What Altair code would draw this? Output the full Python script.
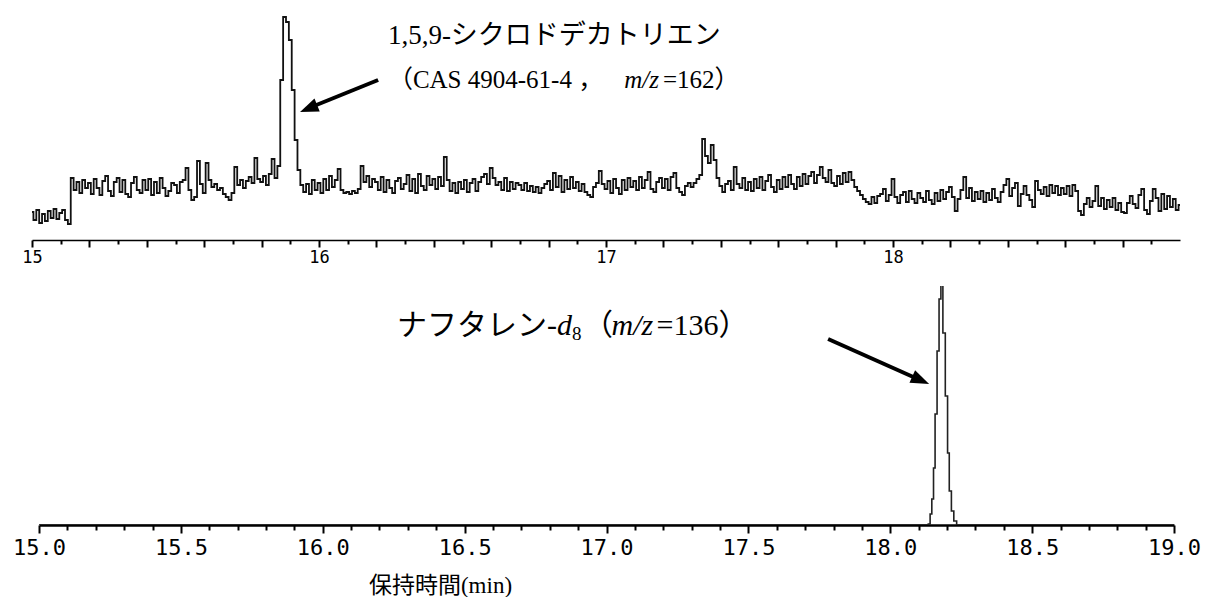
import altair as alt
import pandas as pd

# ---------------- data ----------------
# upper trace (m/z 162): intensity (arbitrary units) sampled every 0.01 min, 15.00 .. 19.00
top_start = 15.0
top_step = 0.01
top_intensity = [
    28, 20, 30, 17, 26, 19, 29, 22, 31, 21,
    27, 30, 20, 16, 62, 50, 58, 47, 60, 52,
    57, 46, 61, 52, 45, 59, 64, 49, 44, 58,
    62, 48, 60, 46, 43, 57, 63, 50, 47, 60,
    50, 61, 45, 58, 47, 62, 52, 44, 49, 57,
    55, 47, 58, 60, 72, 50, 40, 43, 79, 56,
    47, 77, 60, 53, 56, 50, 52, 46, 43, 40,
    47, 73, 55, 60, 52, 59, 63, 57, 82, 61,
    58, 64, 55, 66, 81, 62, 74, 160, 223, 218,
    200, 150, 100, 70, 55, 48, 56, 46, 60, 50,
    57, 47, 61, 50, 64, 53, 60, 71, 50, 47,
    48, 46, 49, 47, 51, 74, 58, 64, 53, 61,
    58, 50, 63, 48, 60, 52, 47, 59, 62, 51,
    56, 65, 49, 61, 47, 66, 54, 50, 64, 55,
    61, 51, 63, 54, 83, 60, 49, 57, 47, 58,
    51, 60, 48, 57, 61, 49, 58, 63, 66, 56,
    72, 62, 55, 58, 50, 62, 49, 58, 51, 57,
    55, 50, 57, 49, 54, 48, 53, 47, 52, 56,
    59, 50, 67, 53, 64, 48, 60, 51, 63, 52,
    58, 49, 56, 48, 45, 43, 53, 57, 69, 56,
    51, 59, 47, 61, 52, 46, 60, 50, 62, 53,
    59, 50, 63, 52, 60, 68, 51, 48, 58, 62,
    52, 61, 50, 63, 67, 52, 48, 45, 54, 57,
    53, 57, 61, 65, 101, 84, 77, 95, 80, 62,
    54, 48, 56, 59, 50, 73, 56, 52, 62, 50,
    58, 49, 61, 52, 63, 50, 59, 65, 53, 48,
    60, 51, 63, 53, 65, 56, 51, 63, 54, 66,
    56, 64, 68, 57, 65, 73, 62, 58, 70, 57,
    54, 64, 56, 67, 58, 68, 60, 53, 49, 45,
    41, 38, 36, 43, 37, 44, 46, 51, 39, 45,
    61, 43, 37, 45, 48, 38, 49, 41, 37, 47,
    42, 38, 49, 40, 36, 47, 39, 50, 41, 48,
    53, 43, 29, 41, 50, 63, 42, 52, 39, 48,
    41, 49, 38, 47, 40, 51, 42, 38, 48, 55,
    61, 44, 52, 57, 34, 46, 54, 45, 40, 33,
    59, 50, 46, 53, 44, 55, 47, 54, 45, 52,
    46, 54, 44, 55, 49, 29, 25, 36, 42, 33,
    39, 54, 34, 42, 31, 40, 33, 42, 30, 37,
    28, 27, 37, 44, 36, 32, 45, 51, 30, 26,
    39, 51, 42, 29, 46, 31, 44, 33, 41, 30,
    35,
]
top_time = [round(top_start + i * top_step, 2) for i in range(len(top_intensity))]

# lower trace (m/z 136, naphthalene-d8), peak is clipped at the top of the panel
bottom_time = [15.0, 18.130, 18.138, 18.143, 18.150, 18.155, 18.161, 18.169, 18.175,
               18.182, 18.189, 18.199, 18.205, 18.211, 18.220, 18.228, 18.240, 19.0]
bottom_intensity = [0, 0, 1, 11, 26, 57, 111, 174, 226,
                    330, 192, 129, 72, 34, 14, 4, 0, 0]

top_ticks = [round(15 + i * 0.1, 1) for i in range(40)]
bottom_ticks = [round(15 + i * 0.1, 1) for i in range(41)]

# annotation anchors (time, intensity)
top_text_t = 16.24
top_line1_v = 196
top_line2_v = 152
top_arrow_tail = (16.206, 160)
top_arrow_shaft_end = (15.965, 132)
top_arrow_tip = (15.934, 128)

bottom_text_t = 16.262
bottom_text_v = 190
bottom_arrow_tail = (17.781, 186)
bottom_arrow_shaft_end = (18.105, 145)
bottom_arrow_tip = (18.137, 141)

label_1 = "1,5,9-シクロドデカトリエン"
label_2 = ["（CAS 4904-61-4 ，", "m/z", "=162）"]
label_3 = ["ナフタレン-", "d", "8", "（", "m/z", "=136）"]
x_title = "保持時間(min)"

# ---------------- styling ----------------
SERIF = "Liberation Serif, Noto Sans CJK JP"
MONO = "DejaVu Sans Mono"
TOP_W, TOP_H = 1148, 230
BOT_W, BOT_H = 1142, 239
BOT_RANGE = [7, 1142]

xs_top = alt.Scale(domain=[15, 19], nice=False, zero=False)
ys_top = alt.Scale(domain=[0, 230], nice=False, zero=False)
xs_bot = alt.Scale(domain=[15, 19], range=BOT_RANGE, nice=False, zero=False)
ys_bot = alt.Scale(domain=[0, 239], nice=False, zero=False)

top_x_axis = alt.Axis(
    values=top_ticks, title=None, grid=False,
    domainColor="black", domainWidth=1.5,
    tickColor="black", tickWidth=2,
    tickSize={"condition": {"test": "round(datum.value*10) % 2 == 0", "value": 7}, "value": 4},
    labelExpr="round(datum.value*10) % 10 == 0 ? format(datum.value, 'd') : ''",
    labelFont=MONO, labelFontSize=17, labelColor="black", labelPadding=2,
    labelFlush=False, labelOverlap=False, labelBound=False,
)

bottom_x_axis = alt.Axis(
    values=bottom_ticks, title=x_title, grid=False,
    domainColor="black", domainWidth=2.5,
    tickColor="black", tickWidth=2,
    tickSize={"condition": {"test": "round(datum.value*10) % 5 == 0", "value": 8}, "value": 5},
    labelExpr="round(datum.value*10) % 5 == 0 ? format(datum.value, '.1f') : ''",
    labelFont=MONO, labelFontSize=22, labelColor="black", labelPadding=4,
    labelFlush=False, labelOverlap=False, labelBound=False,
    titleFont=SERIF, titleFontSize=23, titleFontWeight="normal", titleColor="black",
    titleX=408, titleY=67, titleAlign="center", titleBaseline="alphabetic",
)

ARROW_PATH = "M0,0L-2,-0.75L-2,0.75Z"


def enc(xs, ys, xaxis):
    return dict(x=alt.X("t:Q", scale=xs, axis=xaxis), y=alt.Y("v:Q", scale=ys, axis=None))


def text_layer(t, v, txt, e, size, style="normal", dx=0, dy=0):
    df = pd.DataFrame({"t": [t], "v": [v], "s": [txt]})
    return alt.Chart(df).mark_text(
        font=SERIF, fontSize=size, fontStyle=style, align="left",
        baseline="alphabetic", color="black", dx=dx, dy=dy,
    ).encode(text="s:N", **e)


def arrow_layers(tail, shaft_end, tip, angle, e):
    shaft_df = pd.DataFrame({"t": [tail[0]], "v": [tail[1]],
                             "t2": [shaft_end[0]], "v2": [shaft_end[1]]})
    shaft = alt.Chart(shaft_df).mark_rule(color="black", strokeWidth=4).encode(
        x2="t2:Q", y2="v2:Q", **e)
    head_df = pd.DataFrame({"t": [tip[0]], "v": [tip[1]]})
    head = alt.Chart(head_df).mark_point(
        shape=ARROW_PATH, filled=True, size=340, angle=angle,
        color="black", opacity=1, strokeWidth=0,
    ).encode(**e)
    return [shaft, head]


# ---------------- upper panel ----------------
e_top = enc(xs_top, ys_top, top_x_axis)
top_df = pd.DataFrame({"t": top_time, "v": top_intensity})
top_line = alt.Chart(top_df).mark_line(
    color="#111111", strokeWidth=1.8, interpolate="step", clip=True
).encode(**e_top)

F1 = 27
F1b = 25
top_layers = [top_line,
              text_layer(top_text_t, top_line1_v, label_1, e_top, F1),
              text_layer(top_text_t, top_line2_v, label_2[0], e_top, F1b),
              text_layer(top_text_t, top_line2_v, label_2[1], e_top, F1b, "italic", dx=9.45 * F1b),
              text_layer(top_text_t, top_line2_v, label_2[2], e_top, F1b, dx=11.0 * F1b)]
top_layers += arrow_layers(top_arrow_tail, top_arrow_shaft_end, top_arrow_tip, 157.7, e_top)
top_chart = alt.layer(*top_layers).properties(width=TOP_W, height=TOP_H)

# ---------------- lower panel ----------------
e_bot = enc(xs_bot, ys_bot, bottom_x_axis)
bot_df = pd.DataFrame({"t": bottom_time, "v": bottom_intensity})
bot_line = alt.Chart(bot_df).mark_line(
    color="#222222", strokeWidth=1.6, interpolate="step", clip=True
).encode(**e_bot)

F2 = 30
bot_layers = [bot_line,
              text_layer(bottom_text_t, bottom_text_v, label_3[0], e_bot, F2),
              text_layer(bottom_text_t, bottom_text_v, label_3[1], e_bot, F2, "italic", dx=5.333 * F2),
              text_layer(bottom_text_t, bottom_text_v, label_3[2], e_bot, int(F2 * 0.65), dx=5.833 * F2, dy=5),
              text_layer(bottom_text_t, bottom_text_v, label_3[3], e_bot, F2, dx=6.2 * F2),
              text_layer(bottom_text_t, bottom_text_v, label_3[4], e_bot, F2, "italic", dx=7.15 * F2),
              text_layer(bottom_text_t, bottom_text_v, label_3[5], e_bot, F2, dx=8.65 * F2)]
bot_layers += arrow_layers(bottom_arrow_tail, bottom_arrow_shaft_end, bottom_arrow_tip, 24.0, e_bot)
bot_chart = alt.layer(*bot_layers).properties(width=BOT_W, height=BOT_H)

chart = alt.vconcat(top_chart, bot_chart, spacing=21).properties(
    padding={"left": 4, "top": 2, "right": 0, "bottom": 0},
    background="white",
).configure_view(stroke=None)

chart.save("out.html", embed_options={"renderer": "svg", "actions": False})
